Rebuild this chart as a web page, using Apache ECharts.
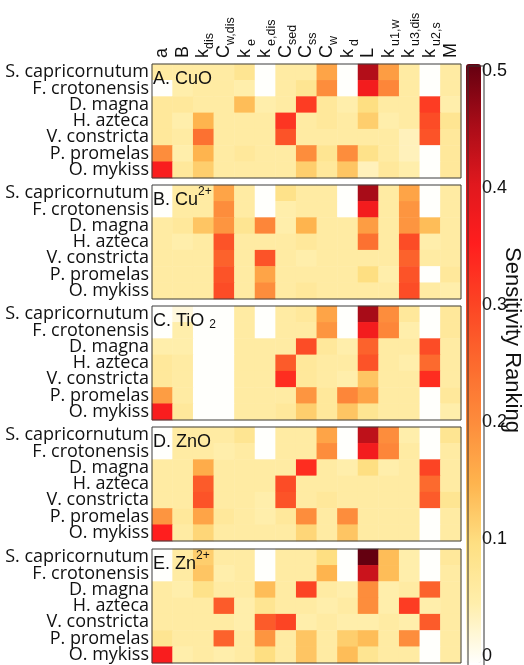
<!DOCTYPE html>
<html>
<head>
<meta charset="utf-8">
<script src="https://cdn.jsdelivr.net/npm/echarts@6/dist/echarts.min.js"></script>
<style>
html,body{margin:0;padding:0;background:#fff;}
#chart{width:524px;height:665px;}
</style>
</head>
<body>
<div id="chart"></div>
<script>
// ---- data ----
const species = ['S. capricornutum','F. crotonensis','D. magna','H. azteca','V. constricta','P. promelas','O. mykiss'];
const paramMain = ['a','B','k','C','k','k','C','C','C','k','L','k','k','k','M'];
const paramSub  = ['','','dis','w,dis','e','e,dis','sed','ss','w','d','','u1,w','u3,dis','u2,s',''];
const paramGap  = [false,false,false,false,true,true,false,false,false,true,false,true,true,true,false];
const colorTicks = [0, 0.1, 0.2, 0.3, 0.4, 0.5];

const cuo = [
  [0.06,0.06,0.06,0.06,0.08,0,0.06,0.06,0.17,0,0.44,0.18,0.06,0,0.06],
  [0,0.05,0.06,0.06,0.05,0,0.06,0.08,0.20,0,0.37,0.21,0.06,0,0.06],
  [0.07,0.07,0.06,0.06,0.14,0.05,0.06,0.31,0.07,0.05,0.10,0.06,0.06,0.31,0.05],
  [0.07,0.05,0.15,0.06,0.06,0.06,0.32,0.06,0.07,0.06,0.12,0.05,0.06,0.29,0.08],
  [0.07,0.06,0.24,0.06,0.06,0.06,0.28,0.06,0.06,0.06,0.06,0.06,0.04,0.28,0.07],
  [0.20,0.05,0.15,0.06,0.07,0.06,0.06,0.20,0.08,0.20,0.09,0.06,0.04,0,0.07],
  [0.36,0.07,0.12,0.06,0.06,0.06,0.06,0.12,0.07,0.13,0.04,0.07,0.05,0,0.07]
];
const cu2 = [
  [0,0.06,0.06,0.17,0.06,0,0.09,0.06,0.06,0,0.45,0.06,0.17,0,0.06],
  [0,0.06,0.06,0.20,0.06,0,0.05,0.06,0.06,0,0.37,0.06,0.19,0,0.06],
  [0.06,0.07,0.13,0.19,0.08,0.21,0.05,0.15,0.06,0.06,0.18,0.06,0.19,0.14,0.06],
  [0.06,0.05,0.06,0.28,0.06,0.06,0.06,0.07,0.06,0.06,0.24,0.06,0.29,0.05,0.06],
  [0.06,0.06,0.06,0.26,0.06,0.28,0.06,0.05,0.06,0.06,0.06,0.06,0.26,0.06,0.06],
  [0.06,0.06,0.06,0.28,0.06,0.17,0.06,0.06,0.06,0.06,0.10,0.05,0.28,0,0.07],
  [0.06,0.06,0.06,0.29,0.06,0.20,0.06,0.07,0.06,0.06,0.06,0.06,0.29,0.06,0.05]
];
const tio2 = [
  [0,0.02,0,0,0.06,0,0.06,0.07,0.17,0,0.45,0.20,0.07,0,0.07],
  [0,0.05,0,0,0.06,0,0.06,0.06,0.19,0,0.37,0.21,0.05,0,0.07],
  [0.05,0.05,0,0,0.06,0.06,0.06,0.29,0.07,0.05,0.26,0.06,0.06,0.29,0.06],
  [0.07,0.06,0,0,0.06,0.06,0.27,0.07,0.06,0.06,0.28,0.06,0.05,0.25,0.06],
  [0.07,0.06,0,0,0.06,0.06,0.33,0.07,0.06,0.05,0.13,0.06,0.06,0.33,0.06],
  [0.18,0.06,0,0,0.06,0.06,0.06,0.19,0.07,0.21,0.17,0.06,0.06,0,0.07],
  [0.36,0.07,0,0,0.06,0.06,0.07,0.12,0.07,0.13,0.08,0.06,0.06,0,0.05]
];
const zno = [
  [0,0.06,0.06,0.06,0.08,0,0.06,0.06,0.17,0,0.43,0.20,0.05,0,0.08],
  [0,0.06,0.06,0.05,0.06,0,0.06,0.06,0.20,0,0.37,0.21,0.06,0,0.06],
  [0.06,0.06,0.16,0.06,0.06,0.06,0.06,0.33,0.06,0.05,0.10,0.05,0.06,0.30,0.06],
  [0.06,0.06,0.27,0.06,0.06,0.06,0.29,0.06,0.06,0.06,0.06,0.06,0.06,0.25,0.06],
  [0.06,0.06,0.28,0.06,0.06,0.05,0.28,0.06,0.07,0.06,0.06,0.06,0.06,0.27,0.08],
  [0.19,0.07,0.17,0.07,0.06,0.05,0.07,0.20,0.06,0.20,0.06,0.06,0.06,0,0.06],
  [0.35,0.06,0.11,0.06,0.06,0.06,0.06,0.11,0.06,0.13,0.06,0.06,0.06,0,0.06]
];
const zn2 = [
  [0,0.06,0.12,0.06,0.06,0,0.06,0.06,0.10,0,0.50,0.14,0.05,0,0.07],
  [0,0.06,0.13,0.05,0.06,0,0.06,0.06,0.15,0,0.42,0.14,0.05,0,0.06],
  [0.06,0.05,0.09,0.06,0.06,0.14,0.06,0.30,0.06,0.05,0.20,0.05,0.06,0.26,0.06],
  [0.06,0.06,0.06,0.27,0.05,0.08,0.06,0.06,0.05,0.06,0.20,0.05,0.31,0.05,0.06],
  [0.06,0.06,0.06,0.06,0.05,0.27,0.30,0.05,0.06,0.05,0.05,0.06,0.05,0.27,0.06],
  [0.08,0.06,0.06,0.26,0.06,0.19,0.06,0.13,0.06,0.12,0.14,0.06,0.20,0,0.06],
  [0.36,0.05,0.06,0.05,0.06,0.10,0.06,0.13,0.06,0.14,0.08,0.06,0.06,0,0.06]
];
const panels = [cuo, cu2, tio2, zno, zn2];
const panelTitles = [
  '{m|A. CuO}',
  '{m|B. Cu}{sup|2+}',
  '{m|C. TiO }{sub|2}',
  '{m|D. ZnO}',
  '{m|E. Zn}{sup|2+}'
];

// ---- layout ----
const plotLeft = 152, plotWidth = 309, panelHeight = 114;
const panelTops = [64, 185, 306, 427, 549];
const sansA = 'Liberation Sans, Arial, sans-serif';
const sansB = 'Open Sans, Noto Sans, sans-serif';

const colors = ['#fffffc','#ffeeab','#fedf82','#feb44e','#fd8d3c','#fc6a2e','#fc4424','#ff1e1e','#e0181e','#a80c18','#640010'];
const paramNames = paramMain.map((m, k) => m + paramSub[k]);

const grids = [], xAxes = [], yAxes = [], series = [], graphics = [];
panelTops.forEach((top, i) => {
  grids.push({left: plotLeft, top: top, width: plotWidth, height: panelHeight,
    show: true, z: 5, backgroundColor: 'rgba(0,0,0,0)', borderColor: '#3c3c3c', borderWidth: 1});
  xAxes.push({
    type: 'category', gridIndex: i, data: paramNames, position: 'top',
    axisLine: {show: false}, axisTick: {show: false}, splitLine: {show: false}, axisLabel: {show: false}
  });
  yAxes.push({
    type: 'category', gridIndex: i, data: species, inverse: true,
    axisLine: {show: false}, axisTick: {show: false}, splitLine: {show: false},
    axisLabel: {fontFamily: sansB, fontSize: 18, color: '#111', margin: 3, interval: 0}
  });
  const d = [];
  panels[i].forEach((row, r) => row.forEach((v, c) => d.push([c, r, v])));
  series.push({
    type: 'heatmap', xAxisIndex: i, yAxisIndex: i, data: d,
    itemStyle: {borderWidth: 0}, emphasis: {disabled: true}, progressive: 0, animation: false
  });
  graphics.push({
    type: 'text', left: plotLeft + 1, top: top + 1, z: 100,
    style: {
      text: panelTitles[i],
      rich: {
        m: {fontFamily: sansA, fontSize: 18, lineHeight: 18, padding: [5, 0, 0, 0], verticalAlign: 'top', fill: '#111'},
        sup: {fontFamily: sansA, fontSize: 12, lineHeight: 12, verticalAlign: 'top', fill: '#111'},
        sub: {fontFamily: sansA, fontSize: 12, lineHeight: 12, padding: [12, 0, 0, 0], verticalAlign: 'top', fill: '#111'}
      }
    }
  });
});

// colorbar tick-label axis
grids.push({left: 466, top: 71.5, width: 15, height: 588.5, show: false});
xAxes.push({type: 'value', gridIndex: 5, show: false, min: 0, max: 1});
yAxes.push({
  type: 'value', gridIndex: 5, min: colorTicks[0], max: colorTicks[colorTicks.length - 1], interval: 0.1,
  position: 'right', axisLine: {show: false}, axisTick: {show: false}, splitLine: {show: false},
  axisLabel: {fontFamily: sansA, fontSize: 18, color: '#111', margin: 1,
    formatter: v => { const t = colorTicks.find(x => Math.abs(x - v) < 1e-6); return t === undefined ? '' : String(t); }}
});
series.push({type: 'line', xAxisIndex: 5, yAxisIndex: 5, data: [], silent: true});

graphics.push({type: 'rect', left: 465.5, top: 63.5, z: 100,
  shape: {width: 16, height: 600}, style: {fill: 'none', stroke: '#333', lineWidth: 1}});
graphics.push({type: 'text', x: 512, y: 340, rotation: -Math.PI / 2, z: 100,
  style: {text: 'Sensitivity Ranking', fontFamily: sansA, fontSize: 22, fill: '#111',
    textAlign: 'center', textVerticalAlign: 'middle'}});

const chart = echarts.init(document.getElementById('chart'), null, {renderer: 'canvas'});
chart.setOption({
  animation: false,
  grid: grids, xAxis: xAxes, yAxis: yAxes, series: series,
  visualMap: {
    type: 'continuous', min: 0, max: 0.5, seriesIndex: [0, 1, 2, 3, 4], dimension: 2,
    calculable: false, show: true, left: 466, top: 64, itemWidth: 15, itemHeight: 599,
    padding: 0, text: null, hoverLink: false,
    inRange: {color: colors}
  },
  graphic: graphics
});

// column (parameter) labels, placed at the category positions of the top panel's x axis
const colLabels = paramNames.map((name, k) => {
  const x = chart.convertToPixel({xAxisIndex: 0}, name);
  const y = panelTops[0] - 6;
  const subStyle = paramGap[k] ? 'g' : 's';
  const txt = paramSub[k] ? '{m|' + paramMain[k] + '}{' + subStyle + '|' + paramSub[k] + '}' : '{m|' + paramMain[k] + '}';
  return {
    type: 'text', x: x, y: y, rotation: Math.PI / 2, z: 100,
    style: {
      text: txt, textAlign: 'left', textVerticalAlign: 'middle',
      rich: {
        m: {fontFamily: sansA, fontSize: 18, lineHeight: 18, verticalAlign: 'top', fill: '#111'},
        s: {fontFamily: sansA, fontSize: 12.5, lineHeight: 12, padding: [9, 0, 0, 0], verticalAlign: 'top', fill: '#111'},
        g: {fontFamily: sansA, fontSize: 12.5, lineHeight: 12, padding: [9, 0, 0, 3], verticalAlign: 'top', fill: '#111'}
      }
    }
  };
});
chart.setOption({graphic: graphics.concat(colLabels)});
</script>
</body>
</html>
